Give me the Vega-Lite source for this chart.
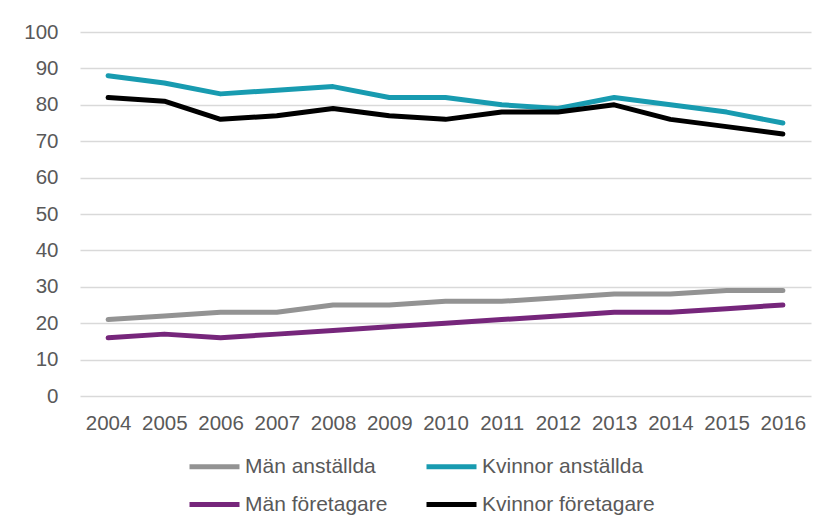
{
  "$schema": "https://vega.github.io/schema/vega-lite/v6.json",
  "width": 731,
  "height": 364,
  "autosize": "none",
  "padding": {"left": 80, "top": 32, "right": 18, "bottom": 134},
  "background": "white",
  "config": {
    "font": "Liberation Sans",
    "view": {"stroke": null}
  },
  "data": {
    "values": [
      {"year": "2004", "serie": "Män anställda", "value": 21},
      {"year": "2005", "serie": "Män anställda", "value": 22},
      {"year": "2006", "serie": "Män anställda", "value": 23},
      {"year": "2007", "serie": "Män anställda", "value": 23},
      {"year": "2008", "serie": "Män anställda", "value": 25},
      {"year": "2009", "serie": "Män anställda", "value": 25},
      {"year": "2010", "serie": "Män anställda", "value": 26},
      {"year": "2011", "serie": "Män anställda", "value": 26},
      {"year": "2012", "serie": "Män anställda", "value": 27},
      {"year": "2013", "serie": "Män anställda", "value": 28},
      {"year": "2014", "serie": "Män anställda", "value": 28},
      {"year": "2015", "serie": "Män anställda", "value": 29},
      {"year": "2016", "serie": "Män anställda", "value": 29},
      {"year": "2004", "serie": "Kvinnor anställda", "value": 88},
      {"year": "2005", "serie": "Kvinnor anställda", "value": 86},
      {"year": "2006", "serie": "Kvinnor anställda", "value": 83},
      {"year": "2007", "serie": "Kvinnor anställda", "value": 84},
      {"year": "2008", "serie": "Kvinnor anställda", "value": 85},
      {"year": "2009", "serie": "Kvinnor anställda", "value": 82},
      {"year": "2010", "serie": "Kvinnor anställda", "value": 82},
      {"year": "2011", "serie": "Kvinnor anställda", "value": 80},
      {"year": "2012", "serie": "Kvinnor anställda", "value": 79},
      {"year": "2013", "serie": "Kvinnor anställda", "value": 82},
      {"year": "2014", "serie": "Kvinnor anställda", "value": 80},
      {"year": "2015", "serie": "Kvinnor anställda", "value": 78},
      {"year": "2016", "serie": "Kvinnor anställda", "value": 75},
      {"year": "2004", "serie": "Män företagare", "value": 16},
      {"year": "2005", "serie": "Män företagare", "value": 17},
      {"year": "2006", "serie": "Män företagare", "value": 16},
      {"year": "2007", "serie": "Män företagare", "value": 17},
      {"year": "2008", "serie": "Män företagare", "value": 18},
      {"year": "2009", "serie": "Män företagare", "value": 19},
      {"year": "2010", "serie": "Män företagare", "value": 20},
      {"year": "2011", "serie": "Män företagare", "value": 21},
      {"year": "2012", "serie": "Män företagare", "value": 22},
      {"year": "2013", "serie": "Män företagare", "value": 23},
      {"year": "2014", "serie": "Män företagare", "value": 23},
      {"year": "2015", "serie": "Män företagare", "value": 24},
      {"year": "2016", "serie": "Män företagare", "value": 25},
      {"year": "2004", "serie": "Kvinnor företagare", "value": 82},
      {"year": "2005", "serie": "Kvinnor företagare", "value": 81},
      {"year": "2006", "serie": "Kvinnor företagare", "value": 76},
      {"year": "2007", "serie": "Kvinnor företagare", "value": 77},
      {"year": "2008", "serie": "Kvinnor företagare", "value": 79},
      {"year": "2009", "serie": "Kvinnor företagare", "value": 77},
      {"year": "2010", "serie": "Kvinnor företagare", "value": 76},
      {"year": "2011", "serie": "Kvinnor företagare", "value": 78},
      {"year": "2012", "serie": "Kvinnor företagare", "value": 78},
      {"year": "2013", "serie": "Kvinnor företagare", "value": 80},
      {"year": "2014", "serie": "Kvinnor företagare", "value": 76},
      {"year": "2015", "serie": "Kvinnor företagare", "value": 74},
      {"year": "2016", "serie": "Kvinnor företagare", "value": 72}
    ]
  },
  "mark": {"type": "line", "strokeWidth": 5, "strokeCap": "round", "strokeJoin": "round"},
  "encoding": {
    "x": {
      "field": "year",
      "type": "ordinal",
      "scale": {"type": "point", "padding": 0.5},
      "axis": {
        "title": null,
        "labelAngle": 0,
        "labelFontSize": 20.5,
        "labelColor": "#595959",
        "labelPadding": 17,
        "ticks": false,
        "domain": false,
        "grid": false
      }
    },
    "y": {
      "field": "value",
      "type": "quantitative",
      "scale": {"domain": [0, 100], "nice": false, "zero": true},
      "axis": {
        "title": null,
        "values": [0, 10, 20, 30, 40, 50, 60, 70, 80, 90, 100],
        "labelFontSize": 20.5,
        "labelColor": "#595959",
        "labelPadding": 22,
        "ticks": false,
        "domain": false,
        "grid": true,
        "gridColor": "#D9D9D9",
        "gridWidth": 1.3
      }
    },
    "color": {
      "field": "serie",
      "type": "nominal",
      "scale": {
        "domain": ["Män anställda", "Kvinnor anställda", "Män företagare", "Kvinnor företagare"],
        "range": ["#939393", "#189BB0", "#76267B", "#000000"]
      },
      "legend": {
        "title": null,
        "orient": "none",
        "legendX": 107,
        "legendY": 407,
        "direction": "horizontal",
        "columns": 2,
        "symbolType": "stroke",
        "symbolSize": 2500,
        "symbolStrokeWidth": 5,
        "labelFontSize": 21,
        "labelColor": "#595959",
        "labelOffset": 3,
        "rowPadding": -10,
        "columnPadding": 28,
        "labelLimit": 300
      }
    }
  }
}
